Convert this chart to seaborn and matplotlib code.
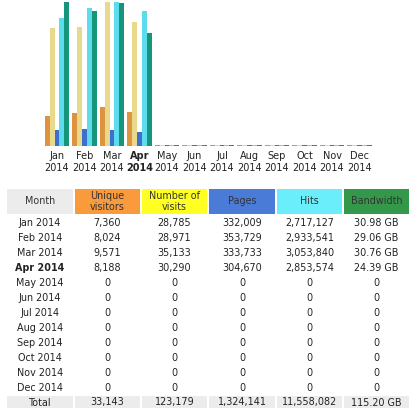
import numpy as np
import pandas as pd
import matplotlib
matplotlib.use("Agg")
import matplotlib.pyplot as plt
import seaborn as sns
from matplotlib.patches import Rectangle

# monthly stats (awstats style summary)
months = ["Jan", "Feb", "Mar", "Apr", "May", "Jun", "Jul", "Aug", "Sep", "Oct", "Nov", "Dec"]
year = "2014"
unique_visitors = [7360, 8024, 9571, 8188, 0, 0, 0, 0, 0, 0, 0, 0]
visits = [28785, 28971, 35133, 30290, 0, 0, 0, 0, 0, 0, 0, 0]
pages = [332009, 353729, 333733, 304670, 0, 0, 0, 0, 0, 0, 0, 0]
hits = [2717127, 2933541, 3053840, 2853574, 0, 0, 0, 0, 0, 0, 0, 0]
bandwidth_gb = [30.98, 29.06, 30.76, 24.39, 0, 0, 0, 0, 0, 0, 0, 0]
totals = ["33,143", "123,179", "1,324,141", "11,558,082", "115.20 GB"]
current_month = "Apr"

headers = ["Month", "Unique\nvisitors", "Number of\nvisits", "Pages", "Hits", "Bandwidth"]
head_colors = ["#ececec", "#f99a3c", "#ffff22", "#4a7bd6", "#6aeefc", "#34984a"]
bar_colors = ["#dc943e", "#e9d98c", "#3d6fd2", "#5cdcec", "#15967b"]

plt.rcParams['font.family'] = ['DejaVu Sans']

# awstats scales visitors/visits together, pages/hits together, bandwidth alone
vmax = max(visits)
hmax = max(hits)
bmax = max(bandwidth_gb)
series = {
    "Unique visitors": np.array(unique_visitors) / vmax,
    "Number of visits": np.array(visits) / vmax,
    "Pages": np.array(pages) / hmax,
    "Hits": np.array(hits) / hmax,
    "Bandwidth": np.array(bandwidth_gb) / bmax,
}
rows = []
for name, vals in series.items():
    for m, v in zip(months, vals):
        rows.append({"month": m, "series": name, "h": max(v, 0.007)})
df = pd.DataFrame(rows)

W, H = 420, 413
fig = plt.figure(figsize=(W / 100, H / 100), dpi=100)

# bar chart
ax = fig.add_axes([43.25 / W, (H - 146) / H, 330 / W, 144 / H])
sns.barplot(data=df, x="month", y="h", hue="series", palette=bar_colors,
            width=0.88, gap=0, legend=False, ax=ax, saturation=1)
ax.set_xlim(-0.5, 11.5)
ax.set_ylim(0, 1)
for s in ax.spines.values():
    s.set_visible(False)
ax.set_yticks([])
ax.set_xlabel("")
ax.set_ylabel("")
ax.tick_params(axis="x", length=0, pad=3.5)
ax.set_xticks(range(12))
ax.set_xticklabels([f"{m}\n{year}" for m in months], fontsize=7.0, color="#222222",
                   linespacing=1.3)
for lab, m in zip(ax.get_xticklabels(), months):
    if m == current_month:
        lab.set_fontweight("bold")

# table drawn in pixel coordinates
tb = fig.add_axes([0, 0, 1, 1])
tb.set_xlim(0, W)
tb.set_ylim(H, 0)
tb.axis("off")

col_x = [(7, 73), (75, 140), (142, 207), (209, 275), (277, 342), (344, 409)]
fs = 6.9

for (x0, x1), head, c in zip(col_x, headers, head_colors):
    tb.add_patch(Rectangle((x0, 189), x1 - x0, 25, color=c, lw=0))
    tb.text((x0 + x1) / 2, 201.5, head, ha="center", va="center", fontsize=fs,
            color="#333333", linespacing=1.1)

for i, m in enumerate(months):
    y = 223 + i * 15
    bold = "bold" if m == current_month else "normal"
    vals = [f"{m} {year}", f"{unique_visitors[i]:,}", f"{visits[i]:,}",
            f"{pages[i]:,}", f"{hits[i]:,}",
            f"{bandwidth_gb[i]:.2f} GB" if bandwidth_gb[i] else "0"]
    for (x0, x1), v in zip(col_x, vals):
        tb.text((x0 + x1) / 2, y, v, ha="center", va="center", fontsize=fs,
                color="#222222", fontweight=bold if v == vals[0] else "normal")

for (x0, x1), v in zip(col_x, ["Total"] + totals):
    tb.add_patch(Rectangle((x0, 396), x1 - x0, 12, color="#ececec", lw=0))
    tb.text((x0 + x1) / 2, 402.5, v, ha="center", va="center", fontsize=fs,
            color="#222222")

fig.savefig("out.png", dpi=100)
